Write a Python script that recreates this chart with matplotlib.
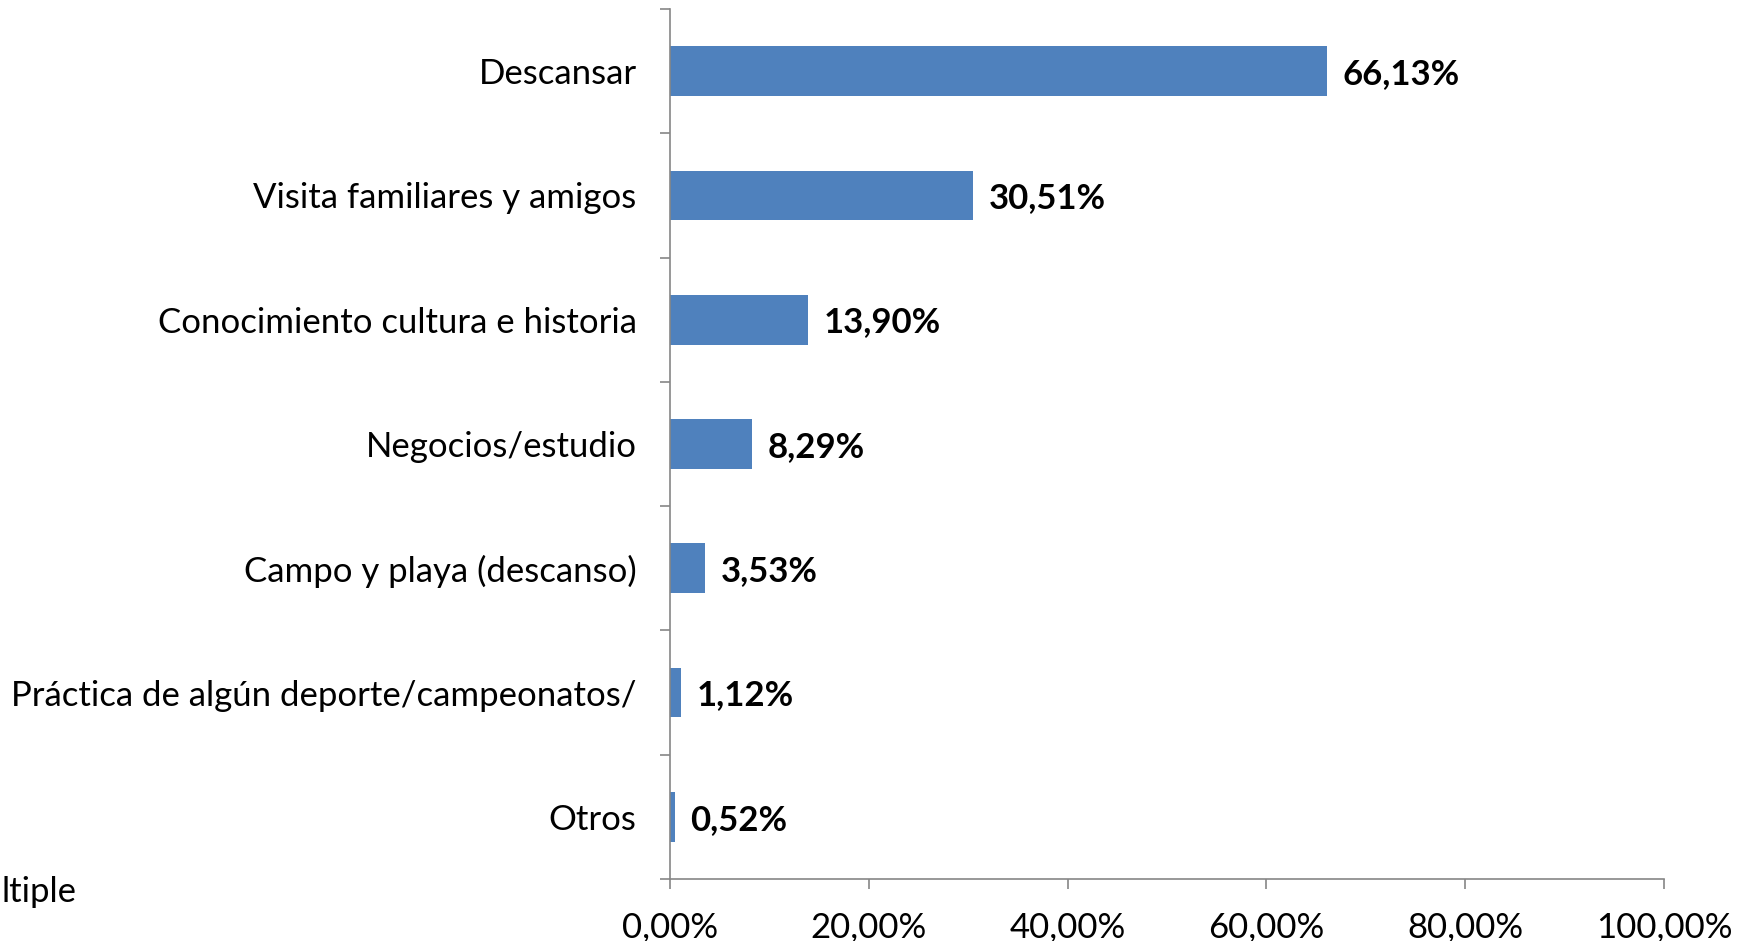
import matplotlib.pyplot as plt

# data
categorias = [
    "Descansar",
    "Visita familiares y amigos",
    "Conocimiento cultura e historia",
    "Negocios/estudio",
    "Campo y playa (descanso)",
    "Práctica de algún deporte/campeonatos/",
    "Otros",
]
porcentajes = [66.13, 30.51, 13.90, 8.29, 3.53, 1.12, 0.52]
xticks = [0, 20, 40, 60, 80, 100]

plt.rcParams['font.family'] = ['Lato', 'DejaVu Sans']

W, H = 1742, 941
fig = plt.figure(figsize=(W / 100, H / 100), dpi=100)
ax = fig.add_axes([670 / W, 1 - 879 / H, (1664 - 670) / W, (879 - 9) / H])

pos = list(range(len(categorias)))
ax.barh(pos, porcentajes, height=0.4, color='#4F81BD')

for y, v in zip(pos, porcentajes):
    txt = f"{v:.2f}".replace('.', ',') + '%'
    ax.annotate(txt, (v, y), xytext=(11, -2), textcoords='offset points',
                va='center', ha='left', fontsize=25, fontweight='bold')

ax.set_xlim(0, 100)
ax.set_ylim(len(categorias) - 0.5, -0.5)

ax.set_yticks(pos)
ax.set_yticklabels(categorias, fontsize=25)
ax.set_yticks([p - 0.5 for p in pos] + [len(pos) - 0.5], minor=True)
ax.tick_params(axis='y', which='major', length=0, pad=24)
ax.tick_params(axis='y', which='minor', length=7, width=1.2, color='#868686', direction='out')

ax.set_xticks(xticks)
ax.set_xticklabels([f"{t},00%" for t in xticks], fontsize=25)
ax.tick_params(axis='x', length=7, width=1.2, color='#868686', direction='out', pad=16)

for s in ['top', 'right']:
    ax.spines[s].set_visible(False)
for s in ['left', 'bottom']:
    ax.spines[s].set_color('#868686')
    ax.spines[s].set_linewidth(1.2)

# leftover of a note that is cut off in the original
fig.text(2 / W, 1 - 892 / H, "ltiple", ha='left', va='center', fontsize=25)

fig.savefig('out.png', dpi=100)
